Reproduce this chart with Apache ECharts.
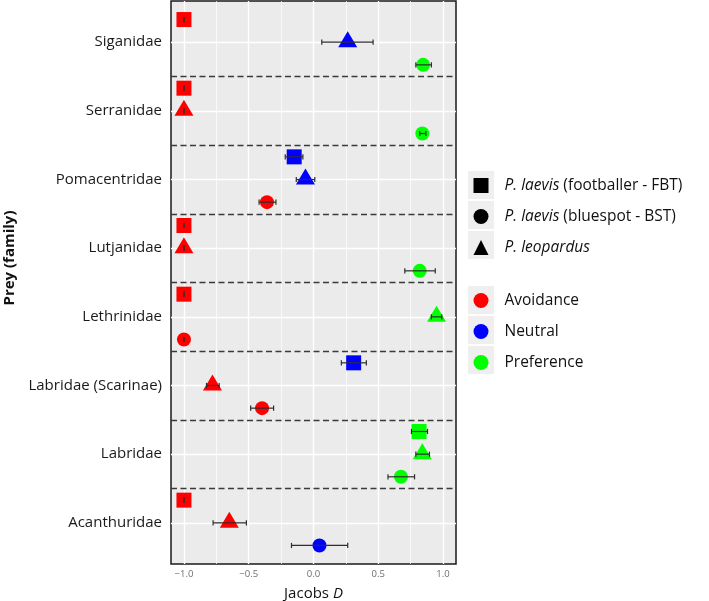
<!DOCTYPE html>
<html>
<head>
<meta charset="utf-8">
<script src="https://cdn.jsdelivr.net/npm/echarts@6/dist/echarts.min.js"></script>
<style>
html,body{margin:0;padding:0;background:#fff;}
#chart{width:709px;height:601px;}
</style>
</head>
<body>
<div id="chart"></div>
<script>
// ---------- DATA ----------
const categories = ['Acanthuridae', 'Labridae', 'Labridae (Scarinae)', 'Lethrinidae', 'Lutjanidae', 'Pomacentridae', 'Serranidae', 'Siganidae'];
const speciesNames = ['P. laevis (footballer - FBT)', 'P. laevis (bluespot - BST)', 'P. leopardus'];
const classNames = ['Avoidance', 'Neutral', 'Preference'];

// P. laevis (footballer - FBT)
const fbtD     = [-1.00, 0.815, 0.310, -1.00, -1.00, -0.149, -1.00, -1.00];
const fbtLow   = [-1.00, 0.756, 0.215, -1.00, -1.00, -0.218, -1.00, -1.00];
const fbtHigh  = [-1.00, 0.880, 0.408, -1.00, -1.00, -0.082, -1.00, -1.00];
const fbtClass = ['Avoidance', 'Preference', 'Neutral', 'Avoidance', 'Avoidance', 'Neutral', 'Avoidance', 'Avoidance'];

// P. laevis (bluespot - BST)
const bstD     = [0.046, 0.675, -0.397, -1.00, 0.820, -0.359, 0.840, 0.846];
const bstLow   = [-0.170, 0.575, -0.485, -1.00, 0.705, -0.420, 0.820, 0.790];
const bstHigh  = [0.264, 0.780, -0.308, -1.00, 0.940, -0.290, 0.867, 0.910];
const bstClass = ['Neutral', 'Preference', 'Avoidance', 'Avoidance', 'Preference', 'Avoidance', 'Preference', 'Preference'];

// P. leopardus
const leoD     = [-0.650, 0.840, -0.780, 0.950, -1.00, -0.062, -1.00, 0.264];
const leoLow   = [-0.775, 0.790, -0.826, 0.910, -1.00, -0.133, -1.00, 0.064];
const leoHigh  = [-0.518, 0.895, -0.728, 0.990, -1.00, 0.010, -1.00, 0.460];
const leoClass = ['Avoidance', 'Preference', 'Avoidance', 'Preference', 'Avoidance', 'Neutral', 'Avoidance', 'Neutral'];

const xTickValues = [-1, -0.5, 0, 0.5, 1];
const xMinorValues = [-0.75, -0.25, 0.25, 0.75];

// ---------- STYLE / LAYOUT ----------
const FONT = '"Open Sans", "Noto Sans", sans-serif';
const classColor = { 'Avoidance': '#FF0000', 'Neutral': '#0000FF', 'Preference': '#00FF00' };
const Y_MIN = -0.6, Y_MAX = 7.6, X_MIN = -1.1, X_MAX = 1.1;
const dodge = [0.33, -0.33, 0]; // square above, circle below, triangle centre
const shapeSymbols = ['rect', 'circle', 'triangle'];
const shapeSizes = [15, 14, [19, 16]];
const shapeOffsets = [[0, 0], [0, 0], [0, -3]];

const speciesData = [
  { d: fbtD, lo: fbtLow, hi: fbtHigh, cls: fbtClass },
  { d: bstD, lo: bstLow, hi: bstHigh, cls: bstClass },
  { d: leoD, lo: leoLow, hi: leoHigh, cls: leoClass }
];

const series = [];

function gridLineSeries(lines, lineStyle, z) {
  return {
    type: 'scatter', data: [], silent: true, z: z,
    markLine: {
      silent: true, symbol: 'none', animation: false, z: z,
      label: { show: false },
      emphasis: { disabled: true },
      lineStyle: lineStyle,
      data: lines
    }
  };
}
series.push(gridLineSeries(xMinorValues.map(v => ({ xAxis: v })), { color: '#FFFFFF', width: 0.7, type: 'solid' }, 1));
series.push(gridLineSeries(xTickValues.map(v => ({ xAxis: v })), { color: '#FFFFFF', width: 1.4, type: 'solid' }, 1));
series.push(gridLineSeries(categories.map((c, i) => ({ yAxis: i })), { color: '#FFFFFF', width: 1.4, type: 'solid' }, 1));
series.push(gridLineSeries(categories.slice(1).map((c, i) => ({ yAxis: i + 0.5 })), { color: '#3A3A3A', width: 1.3, type: [6, 3.5] }, 2));

// points
speciesData.forEach((sp, k) => {
  series.push({
    name: speciesNames[k],
    type: 'scatter',
    symbol: shapeSymbols[k],
    symbolSize: shapeSizes[k],
    symbolOffset: shapeOffsets[k],
    z: 3,
    itemStyle: { color: '#000000', opacity: 1 },
    data: sp.d.map((v, i) => ({ value: [v, i + dodge[k]], itemStyle: { color: classColor[sp.cls[i]] } }))
  });
});

// error bars
speciesData.forEach((sp, k) => {
  series.push({
    type: 'custom', silent: true, z: 4,
    data: sp.d.map((v, i) => [sp.lo[i], sp.hi[i], i + dodge[k]]),
    encode: { x: [0, 1], y: 2 },
    renderItem: function (params, api) {
      const y = api.value(2);
      const a = api.coord([api.value(0), y]);
      const b = api.coord([api.value(1), y]);
      const h = 2.6;
      const st = { stroke: '#2E2E2E', lineWidth: 1.2, fill: null };
      return {
        type: 'group',
        children: [
          { type: 'line', shape: { x1: a[0], y1: a[1], x2: b[0], y2: b[1] }, style: st },
          { type: 'line', shape: { x1: a[0], y1: a[1] - h, x2: a[0], y2: a[1] + h }, style: st },
          { type: 'line', shape: { x1: b[0], y1: b[1] - h, x2: b[0], y2: b[1] + h }, style: st }
        ]
      };
    }
  });
});

// dummy series for colour legend
classNames.forEach(c => {
  series.push({ name: c, type: 'scatter', data: [], itemStyle: { color: classColor[c], opacity: 1 } });
});

const italicMap = {
  'P. laevis (footballer - FBT)': '{i|P. laevis} (footballer - FBT)',
  'P. laevis (bluespot - BST)': '{i|P. laevis} (bluespot - BST)',
  'P. leopardus': '{i|P. leopardus}'
};

const legendText = {
  color: '#111111', fontFamily: FONT, fontSize: 15.5, lineHeight: 15,
  padding: [0, 0, 0, 11],
  rich: { i: { fontStyle: 'italic', fontFamily: FONT, fontSize: 15.5, lineHeight: 15, color: '#111111' } }
};

const keyBoxes = [];
[185, 215, 245, 300, 330, 360].forEach(cy => {
  keyBoxes.push({ type: 'rect', left: 468, top: cy - 14, shape: { width: 26, height: 28 }, style: { fill: '#EFEFEF' }, z: -1, silent: true });
});

const option = {
  animation: false,
  backgroundColor: '#FFFFFF',
  grid: {
    left: 171, right: 253, top: 1, bottom: 37,
    outerBoundsMode: 'none',
    show: true, backgroundColor: '#EBEBEB', borderColor: '#1A1A1A', borderWidth: 1.5, containLabel: false
  },
  xAxis: {
    type: 'value', min: X_MIN, max: X_MAX,
    name: '{n|Jacobs }{i|D}', nameLocation: 'middle', nameGap: 22,
    nameTextStyle: {
      rich: {
        n: { fontFamily: FONT, fontSize: 15, color: '#111111' },
        i: { fontFamily: FONT, fontSize: 15, color: '#111111', fontStyle: 'italic' }
      }
    },
    axisLine: { show: false },
    splitLine: { show: false },
    axisTick: { show: true, length: 3.5, customValues: xTickValues, lineStyle: { color: '#333333', width: 1 } },
    axisLabel: {
      customValues: xTickValues, margin: 5, fontFamily: FONT, fontSize: 9.5, color: '#6E6E6E',
      formatter: v => (v < 0 ? '\u2212' : '') + Math.abs(v).toFixed(1)
    }
  },
  yAxis: {
    type: 'value', min: Y_MIN, max: Y_MAX,
    axisLine: { show: false },
    splitLine: { show: false },
    axisTick: { show: true, length: 4, customValues: categories.map((c, i) => i), lineStyle: { color: '#333333', width: 1 } },
    axisLabel: {
      customValues: categories.map((c, i) => i), margin: 9, fontFamily: FONT, fontSize: 15, color: '#1A1A1A',
      formatter: v => categories[Math.round(v)] || ''
    }
  },
  legend: [
    {
      orient: 'vertical', left: 468.5, top: 172.5, itemWidth: 15, itemHeight: 15, itemGap: 15,
      selectedMode: false,
      data: speciesNames.map((n, k) => ({ name: n, icon: shapeSymbols[k] })),
      formatter: n => italicMap[n] || n,
      textStyle: legendText
    },
    {
      orient: 'vertical', left: 468.5, top: 287.5, itemWidth: 15, itemHeight: 15, itemGap: 15,
      selectedMode: false,
      data: classNames.map(n => ({ name: n, icon: 'circle' })),
      textStyle: { color: '#111111', fontFamily: FONT, fontSize: 15.5, lineHeight: 15, padding: [0, 0, 0, 11] }
    }
  ],
  graphic: keyBoxes.concat([
    {
      type: 'text', x: 10, y: 258, rotation: Math.PI / 2,
      style: { text: 'Prey (family)', font: 'bold 15px ' + FONT, fill: '#111111', textAlign: 'center', textVerticalAlign: 'middle' }
    }
  ]),
  series: series
};

const chart = echarts.init(document.getElementById('chart'), null, { renderer: 'canvas' });
chart.setOption(option);
</script>
</body>
</html>
